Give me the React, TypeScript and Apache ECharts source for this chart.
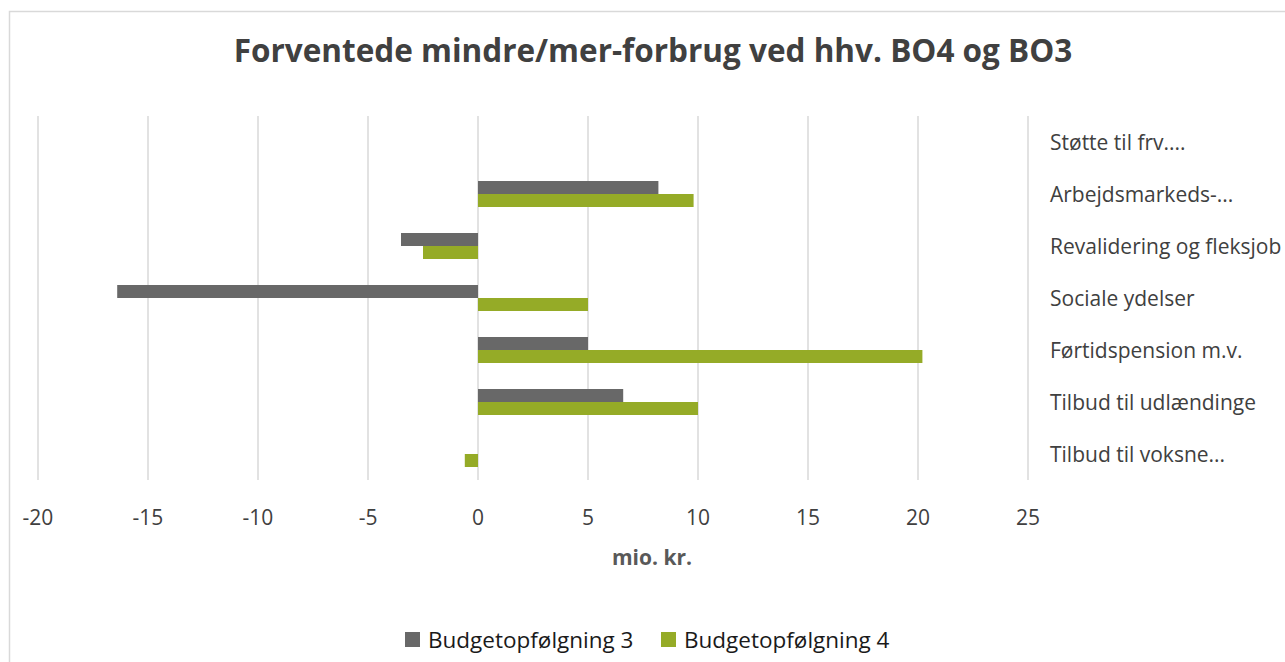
import React, { useEffect, useRef } from "react";
import * as echarts from "echarts";

const categories = [
  "Støtte til frv....",
  "Arbejdsmarkeds-...",
  "Revalidering og fleksjob",
  "Sociale ydelser",
  "Førtidspension m.v.",
  "Tilbud til udlændinge",
  "Tilbud til voksne...",
];
const bo3Values = [0, 8.2, -3.5, -16.4, 5.0, 6.6, 0];
const bo4Values = [0, 9.8, -2.5, 5.0, 20.2, 10.0, -0.6];
const seriesNames = ["Budgetopfølgning 3", "Budgetopfølgning 4"];
const titleText = "Forventede mindre/mer-forbrug ved hhv. BO4 og BO3";
const axisTitle = "mio. kr.";

const FONT = "'Open Sans', 'Noto Sans', sans-serif";

export default function App() {
  const ref = useRef<HTMLDivElement>(null);
  useEffect(() => {
    if (!ref.current) return;
    const chart = echarts.init(ref.current, undefined, { renderer: "svg" });
    const legendCommon = {
      top: 628,
      itemWidth: 15,
      itemHeight: 15,
      icon: "rect",
      padding: 0,
      textStyle: { fontSize: 22.5, color: "#1a1a1a", fontFamily: FONT, padding: [0, 0, 0, 3] },
    };
    chart.setOption({
      animation: false,
      backgroundColor: "#ffffff",
      textStyle: { fontFamily: FONT },
      title: {
        text: titleText,
        left: 648,
        textAlign: "center",
        top: 28,
        textStyle: { fontSize: 31.5, fontWeight: "bold", color: "#404040", fontFamily: FONT },
      },
      graphic: [
        {
          type: "rect",
          shape: { x: 9.5, y: 11.5, width: 1400, height: 800 },
          style: { fill: "none", stroke: "#d9d9d9", lineWidth: 1.5 },
          silent: true,
        },
        {
          type: "text",
          x: 652,
          y: 557,
          style: {
            text: axisTitle,
            fontSize: 21,
            fontWeight: "bold",
            fill: "#595959",
            fontFamily: FONT,
            textAlign: "center",
            textVerticalAlign: "middle",
          },
        },
      ],
      legend: [
        { ...legendCommon, data: [seriesNames[0]], left: 405 },
        { ...legendCommon, data: [seriesNames[1]], left: 661 },
      ],
      grid: { left: 38, right: 257, top: 116, height: 364, containLabel: false },
      xAxis: {
        type: "value",
        min: -20,
        max: 25,
        interval: 5,
        axisLine: { show: false },
        axisTick: { show: false },
        splitLine: { show: true, lineStyle: { color: "#d9d9d9", width: 1.5 } },
        axisLabel: { fontSize: 21, color: "#404040", margin: 26, fontFamily: FONT },
      },
      yAxis: {
        type: "category",
        data: categories,
        inverse: true,
        position: "right",
        axisLine: { show: false },
        axisTick: { show: false },
        splitLine: { show: false },
        axisLabel: {
          fontSize: 21,
          color: "#404040",
          margin: 22,
          align: "left",
          fontFamily: FONT,
          padding: [8, 0, 0, 0],
        },
      },
      series: [
        {
          name: seriesNames[0],
          type: "bar",
          data: bo3Values,
          itemStyle: { color: "#686868" },
          barGap: "0%",
          barCategoryGap: "50%",
        },
        {
          name: seriesNames[1],
          type: "bar",
          data: bo4Values,
          itemStyle: { color: "#95ab27" },
          barGap: "0%",
          barCategoryGap: "50%",
        },
      ],
    });
    return () => chart.dispose();
  }, []);
  return (
    <div
      ref={ref}
      style={{ position: "fixed", left: 0, top: 0, width: 1285, height: 662 }}
    />
  );
}
